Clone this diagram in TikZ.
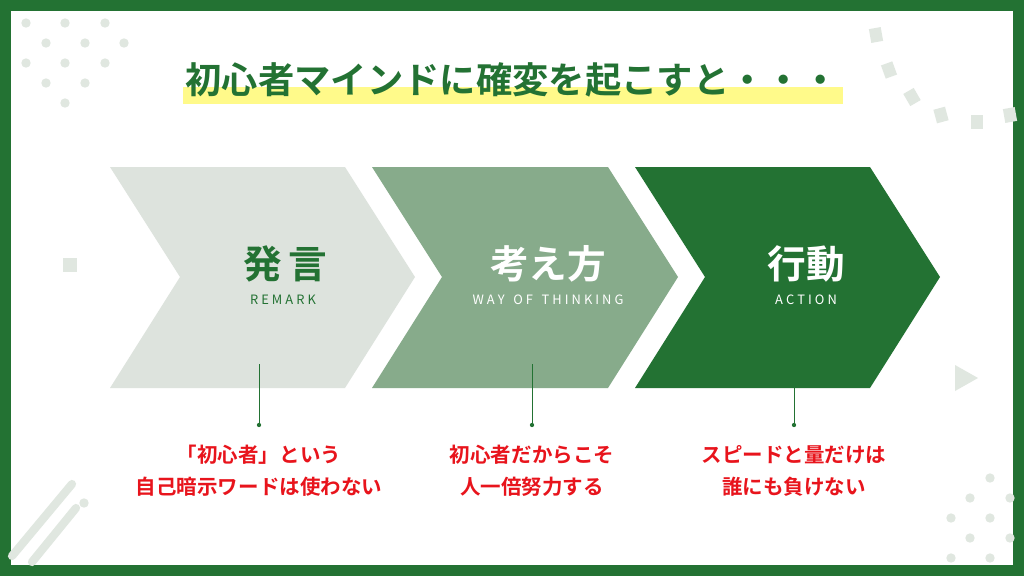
\documentclass[tikz,border=0pt]{standalone}
\usepackage{fontspec}
\newfontfamily\jpb{Noto Sans CJK JP Bold}
\newfontfamily\jp{Noto Sans CJK JP}
\usetikzlibrary{positioning, shapes.geometric}
\definecolor{dgreen}{RGB}{35,114,51}
\definecolor{mgreen}{RGB}{135,171,139}
\definecolor{lgreen}{RGB}{221,227,221}
\definecolor{deco}{RGB}{224,231,224}
\definecolor{hl}{RGB}{255,250,138}
\definecolor{jred}{RGB}{232,20,28}
\newcommand{\ls}{\kern2.6pt}
\begin{document}
\begin{tikzpicture}[x=0.03cm,y=-0.03cm,
  head/.style={font=\jpb\fontsize{33}{33}\selectfont},
  sub/.style={font=\jp\fontsize{11}{12}\selectfont},
  note/.style={font=\jpb\fontsize{17.5}{27}\selectfont, text=jred, align=center},
  pin/.style={dgreen, line width=0.5pt},
  dot/.style={circle, fill=dgreen, inner sep=1.3pt},
  spot/.style={circle, fill=deco, minimum size=8pt, inner sep=0pt}]
  \fill[dgreen] (0,0) rectangle (1024,576);
  \fill[white] (11,11) rectangle (1013,565);
  % decorations
  \foreach \x/\y in {26/23,65/23,105/23,46/43,85/43,124/43,26/63,65/63,105/63,46/83,85/83,65/103}
    \node[spot] at (\x,\y) {};
  \foreach \x/\y/\r in {876/35/10,889/70/20,912/97/30,941/115/15,977/122/0,1010/115/10}
    \fill[deco, rotate around={\r:(\x,\y)}] (\x-6,\y-7) rectangle (\x+6,\y+7);
  \fill[deco] (63,258) rectangle (77,272);
  \fill[deco] (955,365) -- (978,378) -- (955,391) -- cycle;
  \draw[deco, line width=7pt, line cap=round] (12,556) -- (72,484);
  \draw[deco, line width=7pt, line cap=round] (32,562) -- (76,508);
  \node[spot] at (84,503) {};
  \foreach \x/\y in {990/478,970/498,1010/498,951/518,990/518,970/538,1010/538,951/558,990/558}
    \node[spot] at (\x,\y) {};
  % title
  \fill[hl] (183,87) rectangle (843,104);
  \node[head, font=\jpb\fontsize{31}{31}\selectfont, text=dgreen] (title) at (512,80) {初心者マインドに確変を起こすと・・・};
  % chevrons
  \fill[lgreen] (110,167) -- (345,167) -- (415,277) -- (345,388) -- (110,388) -- (180,277) -- cycle;
  \fill[mgreen] (372,167) -- (608,167) -- (678,277) -- (608,388) -- (372,388) -- (442,277) -- cycle;
  \fill[dgreen] (635,167) -- (870,167) -- (940,277) -- (870,388) -- (635,388) -- (705,277) -- cycle;
  \node[head, text=dgreen] (h1) at (285,264) {発\,言};
  \node[sub, text=dgreen] (s1) at (283,300) {R\ls E\ls M\ls A\ls R\ls K};
  \node[head, text=white] (h2) at (548,264) {考え方};
  \node[sub, text=white] (s2) at (548,300) {W\ls A\ls Y\ \ \ O\ls F\ \ \ T\ls H\ls I\ls N\ls K\ls I\ls N\ls G};
  \node[head, text=white] (h3) at (806,264) {行動};
  \node[sub, text=white] (s3) at (806,300) {A\ls C\ls T\ls I\ls O\ls N};
  % pins and notes
  \coordinate (t1) at (259,364); \node[dot] (d1) at (259,425) {};
  \coordinate (t2) at (532,364); \node[dot] (d2) at (532,425) {};
  \coordinate (t3) at (794,388); \node[dot] (d3) at (794,425) {};
  \draw[pin] (t1) -- (d1); \draw[pin] (t2) -- (d2); \draw[pin] (t3) -- (d3);
  \node[note] (n1) at (259,471) {「初心者」という\\自己暗示ワードは使わない};
  \node[note] (n2) at (532,471) {初心者だからこそ\\人一倍努力する};
  \node[note] (n3) at (794,471) {スピードと量だけは\\誰にも負けない};
\end{tikzpicture}
\end{document}
